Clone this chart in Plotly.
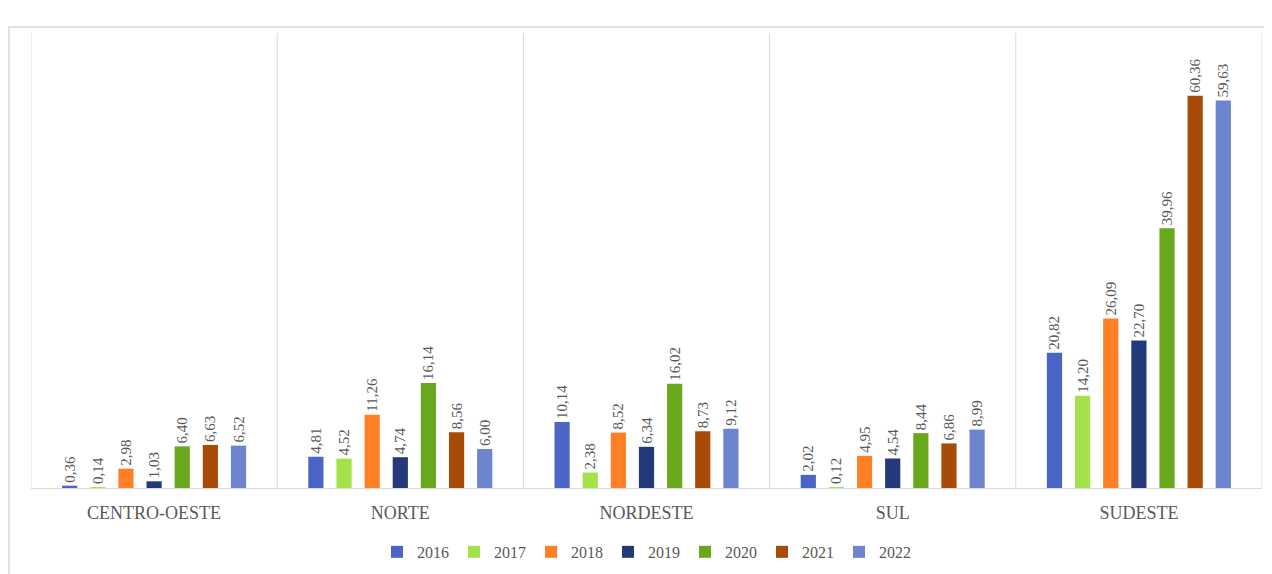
import plotly.graph_objects as go

regions = ["CENTRO-OESTE", "NORTE", "NORDESTE", "SUL", "SUDESTE"]
years = ["2016", "2017", "2018", "2019", "2020", "2021", "2022"]
v2016 = [0.36, 4.81, 10.14, 2.02, 20.82]
v2017 = [0.14, 4.52, 2.38, 0.12, 14.20]
v2018 = [2.98, 11.26, 8.52, 4.95, 26.09]
v2019 = [1.03, 4.74, 6.34, 4.54, 22.70]
v2020 = [6.40, 16.14, 16.02, 8.44, 39.96]
v2021 = [6.63, 8.56, 8.73, 6.86, 60.36]
v2022 = [6.52, 6.00, 9.12, 8.99, 59.63]
series = [v2016, v2017, v2018, v2019, v2020, v2021, v2022]
colors = ["#4A65C6", "#A4E24B", "#FF7F24", "#24397A", "#69A81C", "#A84B06", "#6D85CF"]

SERIF = "Liberation Serif, DejaVu Serif, serif"
GRAY = "#595959"
LINE = "#d9d9d9"

fig = go.Figure()
for yr, vals, col in zip(years, series, colors):
    fig.add_trace(go.Bar(
        name=yr, x=regions, y=vals, marker_color=col, marker_line_width=0,
        texttemplate="%{y:.2f}", textposition="outside", textangle=-90,
        constraintext="none",
        textfont=dict(family=SERIF, size=15, color=GRAY),
        cliponaxis=False,
    ))

shapes = []
for i in range(len(regions) + 1):
    shapes.append(dict(type="line", xref="x", yref="paper", x0=i - 0.5, x1=i - 0.5,
                       y0=0, y1=1, line=dict(color=LINE, width=1), layer="below"))
# outer chart frame
shapes.append(dict(type="rect", xref="paper", yref="paper",
                   x0=-0.0179, x1=1.2, y0=-0.5, y1=1.0132,
                   line=dict(color=LINE, width=1.5), layer="below"))

fig.update_layout(
    width=1264, height=566,
    margin=dict(l=23, r=10, t=25, b=86),
    paper_bgcolor="white", plot_bgcolor="white",
    separators=",.",
    barmode="group", bargap=0.2, bargroupgap=0.46,
    shapes=shapes,
    showlegend=True,
    legend=dict(orientation="h", xanchor="center", x=0.5,
                yref="container", yanchor="middle", y=0.039,
                font=dict(family=SERIF, size=16, color=GRAY),
                itemwidth=30, traceorder="normal"),
    xaxis=dict(showline=True, linecolor=LINE, linewidth=1, ticks="",
               showgrid=False, tickfont=dict(family=SERIF, size=18, color=GRAY),
               ticklabelstandoff=8, range=[-0.5, 4.5]),
    yaxis=dict(visible=False, range=[0, 70]),
)

fig.write_html("out.html")
